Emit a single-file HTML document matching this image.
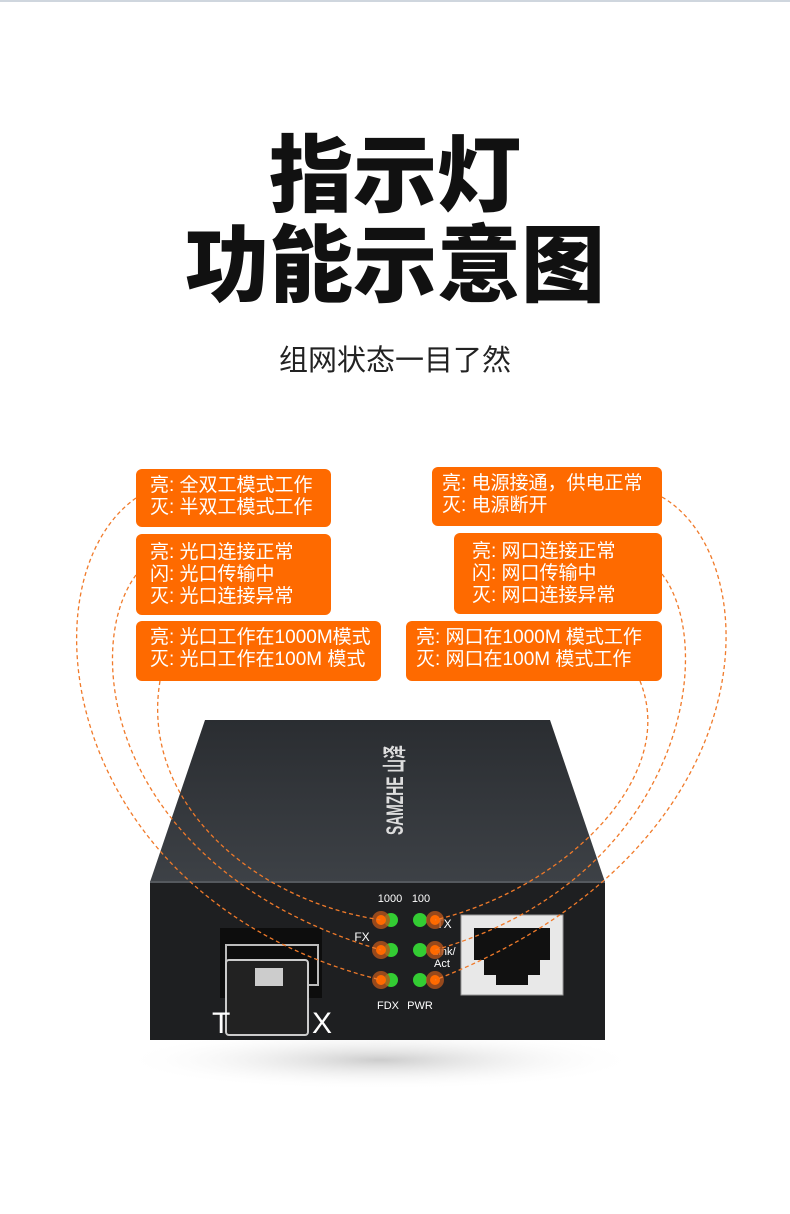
<!DOCTYPE html>
<html><head><meta charset="utf-8"><style>
body{margin:0;width:790px;height:1214px;background:#fff;overflow:hidden;position:relative;font-family:"Liberation Sans","Noto Sans CJK SC",sans-serif}
.t{position:absolute;left:0;width:790px;text-align:center;font-weight:900;color:#111;font-size:84px;line-height:1}
.b{position:absolute;background:#fe6a00;border-radius:6px;color:#fff;font-size:19px;line-height:22px;padding:6px 0 0 14px;box-sizing:border-box}
</style></head><body>
<div style="position:absolute;left:0;top:0;width:790px;height:2px;background:#cfd6de"></div>
<div class="t" style="top:134px">指示灯</div>
<div class="t" style="top:224px">功能示意图</div>
<div style="position:absolute;left:0;width:790px;top:337px;text-align:center;font-size:29px;color:#222">组网状态一目了然</div>

<div class="b" style="left:136px;top:469px;width:195px;height:58px">亮: 全双工模式工作<br>灭: 半双工模式工作</div>
<div class="b" style="left:136px;top:534px;width:195px;height:81px;padding-top:8px">亮: 光口连接正常<br>闪: 光口传输中<br>灭: 光口连接异常</div>
<div class="b" style="left:136px;top:621px;width:245px;height:60px">亮: 光口工作在1000M模式<br>灭: 光口工作在100M 模式</div>
<div class="b" style="left:432px;top:467px;width:230px;height:59px;padding-left:10px">亮: 电源接通，供电正常<br>灭: 电源断开</div>
<div class="b" style="left:454px;top:533px;width:208px;height:81px;padding-top:8px;padding-left:18px">亮: 网口连接正常<br>闪: 网口传输中<br>灭: 网口连接异常</div>
<div class="b" style="left:406px;top:621px;width:256px;height:60px;padding-left:10px">亮: 网口在1000M 模式工作<br>灭: 网口在100M 模式工作</div>

<svg width="790" height="1214" style="position:absolute;left:0;top:0">
<defs><linearGradient id="tg" x1="0" y1="0" x2="0" y2="1"><stop offset="0" stop-color="#2a2d31"/><stop offset="1" stop-color="#3d4146"/></linearGradient>
<radialGradient id="sh" cx="0.5" cy="0.5" r="0.5"><stop offset="0" stop-color="#999" stop-opacity=".5"/><stop offset="1" stop-color="#fff" stop-opacity="0"/></radialGradient></defs>
<ellipse cx="380" cy="1060" rx="260" ry="30" fill="url(#sh)"/>
<polygon points="205,720 550,720 605,882 150,882" fill="url(#tg)"/>
<polygon points="150,882 605,882 605,1040 150,1040" fill="#1e1f21"/>
<line x1="150" y1="882" x2="605" y2="882" stroke="#55595e" stroke-width="2"/>
<text x="0" y="0" transform="translate(403,835) rotate(-90)" fill="#ddd" font-size="24" font-weight="bold" textLength="90" lengthAdjust="spacingAndGlyphs">SAMZHE 山泽</text>
<!-- SFP -->
<rect x="220" y="928" width="102" height="70" fill="#0d0d0d"/>
<rect x="226" y="945" width="92" height="40" fill="none" stroke="#bbb" stroke-width="2"/>
<rect x="226" y="960" width="82" height="75" rx="3" fill="#222" stroke="#ccc" stroke-width="2"/>
<rect x="255" y="968" width="28" height="18" fill="#ccc"/>
<text x="212" y="1033" fill="#fff" font-size="30">T</text><text x="312" y="1033" fill="#fff" font-size="30">X</text>
<!-- RJ45 -->
<rect x="461" y="915" width="102" height="80" fill="#e8e8e8" stroke="#999"/>
<path d="M474 928 H550 V960 H540 V975 H528 V985 H496 V975 H484 V960 H474 Z" fill="#111"/>
<g fill="#fff" font-size="11" text-anchor="middle">
<text x="390" y="902">1000</text><text x="421" y="902">100</text>
<text x="362" y="941" font-size="12">FX</text><text x="444" y="928" font-size="12">TX</text>
<text x="444" y="955">Link/</text><text x="442" y="967">Act</text>
<text x="388" y="1009">FDX</text><text x="420" y="1009">PWR</text></g>
<g><circle cx="391" cy="920" r="7" fill="#3c3"/><circle cx="391" cy="950" r="7" fill="#3c3"/><circle cx="391" cy="980" r="7" fill="#3c3"/>
<circle cx="420" cy="920" r="7" fill="#3c3"/><circle cx="420" cy="950" r="7" fill="#3c3"/><circle cx="420" cy="980" r="7" fill="#3c3"/>
<circle cx="381" cy="920" r="9" fill="#b5541c" opacity=".8"/><circle cx="381" cy="950" r="9" fill="#b5541c" opacity=".8"/><circle cx="381" cy="980" r="9" fill="#b5541c" opacity=".8"/>
<circle cx="435" cy="920" r="9" fill="#b5541c" opacity=".8"/><circle cx="435" cy="950" r="9" fill="#b5541c" opacity=".8"/><circle cx="435" cy="980" r="9" fill="#b5541c" opacity=".8"/>
<circle cx="381" cy="920" r="5" fill="#ff6a00"/><circle cx="381" cy="950" r="5" fill="#ff6a00"/><circle cx="381" cy="980" r="5" fill="#ff6a00"/>
<circle cx="435" cy="920" r="5" fill="#ff6a00"/><circle cx="435" cy="950" r="5" fill="#ff6a00"/><circle cx="435" cy="980" r="5" fill="#ff6a00"/></g>
<g fill="none" stroke="#f07a2a" stroke-width="1.3" stroke-dasharray="4,3">
<path d="M136 498 C20 580,60 900,381 980"/>
<path d="M136 575 C80 650,110 870,381 950"/>
<path d="M160 681 C140 800,250 900,381 920"/>
<path d="M662 497 C770 560,770 850,435 980"/>
<path d="M662 574 C720 650,680 880,435 950"/>
<path d="M640 681 C680 780,560 890,435 920"/>
</g>
</svg>
</body></html>
